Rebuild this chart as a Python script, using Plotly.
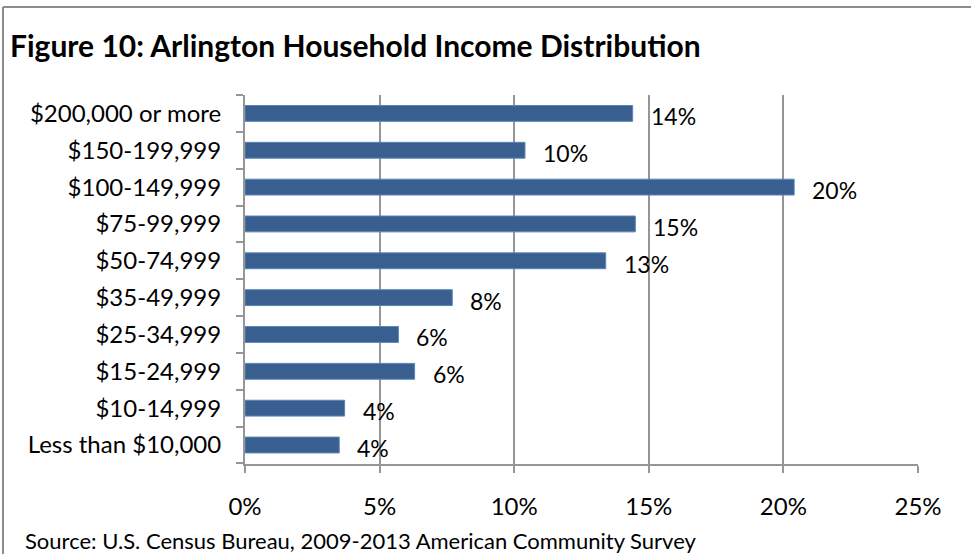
import plotly.graph_objects as go

categories = ["Less than $10,000", "$10-14,999", "$15-24,999", "$25-34,999", "$35-49,999",
              "$50-74,999", "$75-99,999", "$100-149,999", "$150-199,999", "$200,000 or more"]
values = [3.5, 3.7, 6.3, 5.7, 7.7, 13.4, 14.5, 20.4, 10.4, 14.4]
labels = ["4%", "4%", "6%", "6%", "8%", "13%", "15%", "20%", "10%", "14%"]
x_ticks = [0, 5, 10, 15, 20, 25]
x_tick_text = ["0%", "5%", "10%", "15%", "20%", "25%"]

FONT = "Lato, Carlito, Calibri, sans-serif"
W, H = 971, 554
L, R, T, B = 245, 53, 95, 90

fig = go.Figure()
fig.add_trace(go.Bar(
    x=values, y=categories, orientation="h",
    marker=dict(color="#385f8f", line=dict(color="#5b84b6", width=1)),
    width=0.43, hoverinfo="skip",
))

for v, c, t in zip(values, categories, labels):
    fig.add_annotation(x=v, y=c, text=t, showarrow=False, xanchor="left", yanchor="middle",
                       xshift=16, yshift=-3, font=dict(family=FONT, size=23, color="#000"))

fig.update_layout(
    width=W, height=H,
    margin=dict(l=L, r=R, t=T, b=B),
    paper_bgcolor="white", plot_bgcolor="white",
    showlegend=False,
    font=dict(family=FONT, size=24, color="#000"),
    title=dict(text="<b>Figure 10: Arlington Household Income Distribution</b>",
               x=10 / W, xref="container", xanchor="left",
               y=1 - 46 / H, yref="container", yanchor="middle",
               font=dict(family=FONT, size=30, color="#000")),
)
fig.update_xaxes(range=[0, 25], tickvals=x_ticks, ticktext=x_tick_text,
                 showgrid=True, gridcolor="#969696", gridwidth=2,
                 showline=True, linecolor="#969696", linewidth=2,
                 ticks="outside", ticklen=7, tickwidth=2, tickcolor="#969696",
                 ticklabelstandoff=13, zeroline=False, fixedrange=True)
fig.update_yaxes(categoryorder="array", categoryarray=categories,
                 showline=True, linecolor="#969696", linewidth=2,
                 ticks="outside", ticklen=7, tickwidth=2, tickcolor="#969696",
                 tickson="boundaries", ticklabelstandoff=17, showgrid=False, fixedrange=True)

pw, ph = W - L - R, H - T - B
fig.add_annotation(text="Source: U.S. Census Bureau, 2009-2013 American Community Survey",
                   xref="paper", yref="paper", x=-(L - 23) / pw, y=-(540 - (H - B)) / ph,
                   xanchor="left", yanchor="middle", showarrow=False,
                   font=dict(family=FONT, size=22, color="#000"))

# chart border (top and left)
fig.add_shape(type="line", xref="paper", yref="paper",
              x0=-(L - 3) / pw, x1=(W - L) / pw, y0=(H - B - 7) / ph, y1=(H - B - 7) / ph,
              line=dict(color="#8c8c8c", width=2))
fig.add_shape(type="line", xref="paper", yref="paper",
              x0=-(L - 3) / pw, x1=-(L - 3) / pw, y0=(H - B - 7) / ph, y1=-(B) / ph,
              line=dict(color="#8c8c8c", width=2))

fig.write_html("out.html", config={"displayModeBar": False},
               post_script="document.body.style.margin='0';document.body.style.overflow='hidden';")
